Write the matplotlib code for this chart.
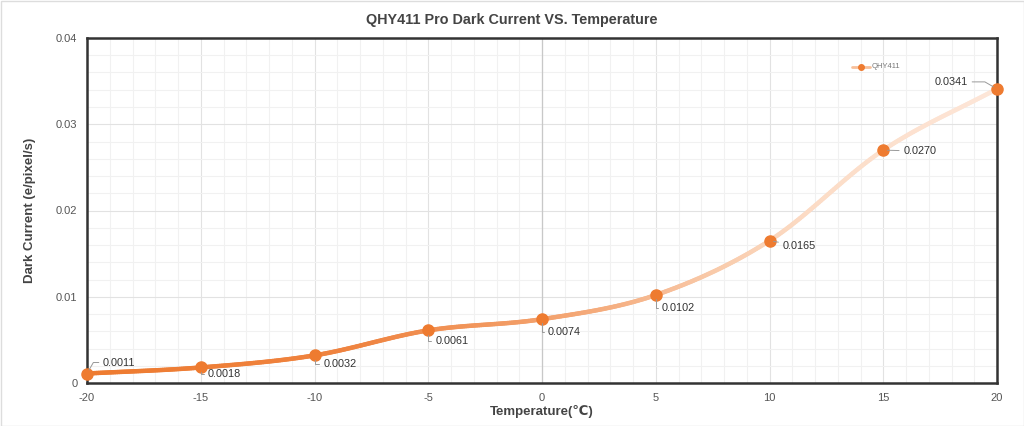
import numpy as np
import matplotlib
matplotlib.use("Agg")
import matplotlib.pyplot as plt
from matplotlib.collections import LineCollection
from matplotlib.colors import LinearSegmentedColormap
from matplotlib.patches import Rectangle

plt.rcParams['font.family'] = ['Liberation Sans', 'DejaVu Sans']

temps = [-20, -15, -10, -5, 0, 5, 10, 15, 20]
dark_current = [0.0011, 0.0018, 0.0032, 0.0061, 0.0074, 0.0102, 0.0165, 0.0270, 0.0341]
labels = ["0.0011", "0.0018", "0.0032", "0.0061", "0.0074", "0.0102", "0.0165", "0.0270", "0.0341"]
x_ticks = [-20, -15, -10, -5, 0, 5, 10, 15, 20]
y_ticks = [0, 0.01, 0.02, 0.03, 0.04]
y_tick_labels = ["0", "0.01", "0.02", "0.03", "0.04"]
series_name = "QHY411"

# label offsets in pixels (dx, dy)
label_offsets = [(16, 11), (7, -7), (9, -9), (7, -11), (6, -13), (6, -13), (13, -5), (20, -1), (-29, 7)]

fig = plt.figure(figsize=(10.24, 4.26), dpi=100)
ax = fig.add_axes([87/1024, 1-383/426, (997-87)/1024, (383-38)/426])

# smooth curve (Catmull-Rom through data points)
def catmull_rom(xs, ys, n=60):
    xs = np.asarray(xs, float); ys = np.asarray(ys, float)
    px = np.concatenate([[2*xs[0]-xs[1]], xs, [2*xs[-1]-xs[-2]]])
    py = np.concatenate([[2*ys[0]-ys[1]], ys, [2*ys[-1]-ys[-2]]])
    ox, oy = [], []
    for i in range(1, len(px)-2):
        t = np.linspace(0, 1, n, endpoint=False)
        for P, out in ((px, ox), (py, oy)):
            p0, p1, p2, p3 = P[i-1], P[i], P[i+1], P[i+2]
            out.extend(0.5*((2*p1) + (-p0+p2)*t + (2*p0-5*p1+4*p2-p3)*t**2 + (-p0+3*p1-3*p2+p3)*t**3))
    ox.append(xs[-1]); oy.append(ys[-1])
    return np.array(ox), np.array(oy)

cx, cy = catmull_rom(temps, dark_current)
cmap = LinearSegmentedColormap.from_list("g", [(0.0, "#EE7B30"), (0.3, "#EF8441"), (0.5, "#F3A06B"),
                                               (0.575, "#F5AE80"), (0.7, "#F9CCAD"), (0.8, "#FCDCC6"),
                                               (1.0, "#FDE6D8")])
pts = np.column_stack([cx, cy]).reshape(-1, 1, 2)
segs = np.concatenate([pts[:-1], pts[1:]], axis=1)
lc = LineCollection(segs, cmap=cmap, norm=plt.Normalize(-20, 20), linewidths=3.2, capstyle='round', zorder=3)
lc.set_array((cx[:-1] + cx[1:]) / 2)
ax.add_collection(lc)
ax.plot(temps, dark_current, 'o', color="#EE7B30", markersize=8, zorder=4, clip_on=False)

for x, y, lab, (dx, dy) in zip(temps, dark_current, labels, label_offsets):
    if dx < 0:
        cs = "angle,angleA=0,angleB=-30,rad=0"
        ha = 'right'
    elif dy > 0:
        cs = "angle,angleA=0,angleB=60,rad=0"
        ha = 'left'
    elif dy > -6:
        cs = "arc3"
        ha = 'left'
    else:
        cs = "angle,angleA=0,angleB=90,rad=0"
        ha = 'left'
    ax.annotate(lab, xy=(x, y), xytext=(dx*0.72, dy*0.72), textcoords='offset points',
                ha=ha, va='center', fontsize=7.8, color='#333333', zorder=5,
                arrowprops=dict(arrowstyle='-', color='#999999', lw=0.7, connectionstyle=cs,
                                shrinkA=1, shrinkB=3))

ax.set_xlim(-20, 20)
ax.set_ylim(0, 0.04)
ax.set_xticks(x_ticks)
ax.set_xticklabels([str(t) for t in x_ticks])
ax.set_yticks(y_ticks)
ax.set_yticklabels(y_tick_labels)
ax.set_xticks(np.arange(-20, 21, 1), minor=True)
ax.set_yticks(np.arange(0, 0.0401, 0.002), minor=True)
ax.grid(which='minor', color='#f1f1f1', lw=0.8)
ax.grid(which='major', color='#e2e2e2', lw=0.8)
ax.axvline(0, color='#c8c8c8', lw=0.9, zorder=1)
ax.set_axisbelow(True)
ax.tick_params(which='both', length=0, labelsize=8, labelcolor='#555555', pad=7)
for s in ax.spines.values():
    s.set_color('#333333')
    s.set_linewidth(1.8)

fig.text(0.5, 1-20/426, "QHY411 Pro Dark Current VS. Temperature", fontsize=10.4, fontweight='bold',
         color='#444444', ha='center', va='center')
ax.set_xlabel("Temperature(\u2103)", fontsize=9.5, fontweight='bold', color='#444444', labelpad=2)
ax.set_ylabel("Dark Current (e/pixel/s)", fontsize=9.5, fontweight='bold', color='#444444', labelpad=14)

# legend
ly = 0.03664
ax.plot([13.63, 14.42], [ly, ly], color='#F8C09A', lw=2, zorder=3, solid_capstyle='round')
ax.plot([14.02], [ly], 'o', color='#EE7B30', markersize=4, zorder=4)
ax.text(14.5, ly, series_name, fontsize=5.5, color='#777777', va='center', ha='left')

fig.patches.append(Rectangle((0.5/1024, 0.5/426), 1-1/1024, 1-1/426, transform=fig.transFigure,
                             fill=False, edgecolor='#dddddd', lw=1))
fig.savefig("out.png", dpi=100, facecolor='white')
